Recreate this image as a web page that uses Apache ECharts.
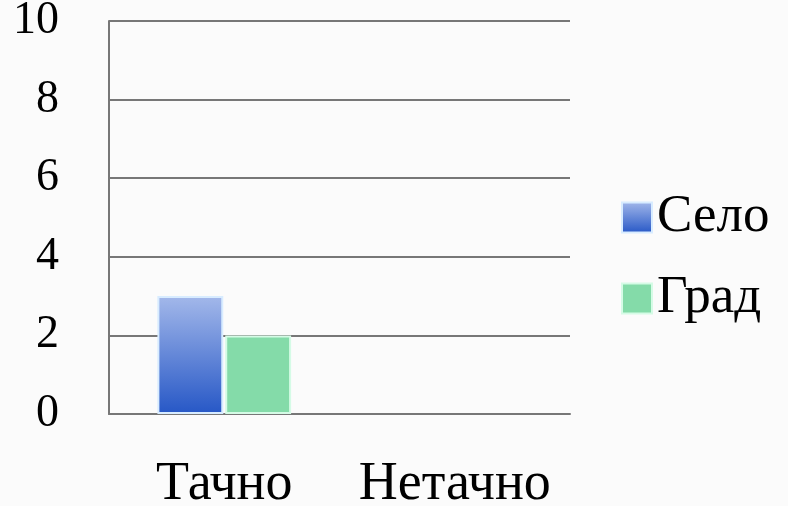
<!DOCTYPE html>
<html><head><meta charset="utf-8">
<script src="https://cdn.jsdelivr.net/npm/echarts@6/dist/echarts.min.js"></script>
<style>html,body{margin:0;padding:0;background:#fbfbfb}#c{width:788px;height:506px}</style>
</head><body><div id="c"></div>
<script>
const categories = ['Тачно', 'Нетачно'];
const seloValues = [3, 0];
const gradValues = [2, 0];
const yTicks = [0, 2, 4, 6, 8, 10];

const font = '"Liberation Serif", "DejaVu Serif", serif';
const chart = echarts.init(document.getElementById('c'));
function toData(arr) {
  return arr.map(v => v === 0 ? {value: v, itemStyle: {borderWidth: 0}} : v);
}
chart.setOption({
  backgroundColor: '#fbfbfb',
  animation: false,
  grid: {left: 109, right: 218, top: 21, bottom: 92, containLabel: false, outerBoundsMode: 'none'},
  legend: {
    orient: 'vertical', left: 616, top: 186, itemWidth: 30, itemHeight: 30, itemGap: 28, itemTextGap: 16,
    icon: 'rect',
    textStyle: {fontFamily: font, fontSize: 53, color: '#000'},
    data: ['Село', 'Град']
  },
  xAxis: {
    type: 'category', data: categories,
    axisLine: {lineStyle: {color: '#777', width: 2}},
    axisTick: {show: false},
    axisLabel: {fontFamily: font, fontSize: 54, color: '#000', margin: 44, interval: 0, hideOverlap: false}
  },
  yAxis: {
    type: 'value', min: yTicks[0], max: yTicks[yTicks.length - 1], interval: 2,
    axisLine: {show: true, lineStyle: {color: '#777', width: 2}},
    axisTick: {show: false},
    splitLine: {lineStyle: {color: '#777', width: 2}},
    axisLabel: {fontFamily: font, fontSize: 46, color: '#000', margin: 50}
  },
  series: [
    {name: 'Село', type: 'bar', data: toData(seloValues), barGap: '3%', barCategoryGap: '42%',
     itemStyle: {color: new echarts.graphic.LinearGradient(0, 0, 0, 1, [
       {offset: 0, color: '#a3b8ea'}, {offset: 1, color: '#2657c6'}]),
       borderColor: '#d8ecff', borderWidth: 2}},
    {name: 'Град', type: 'bar', data: toData(gradValues),
     itemStyle: {color: '#84dba9', borderColor: '#d5fbe6', borderWidth: 2}}
  ]
});
</script></body></html>
